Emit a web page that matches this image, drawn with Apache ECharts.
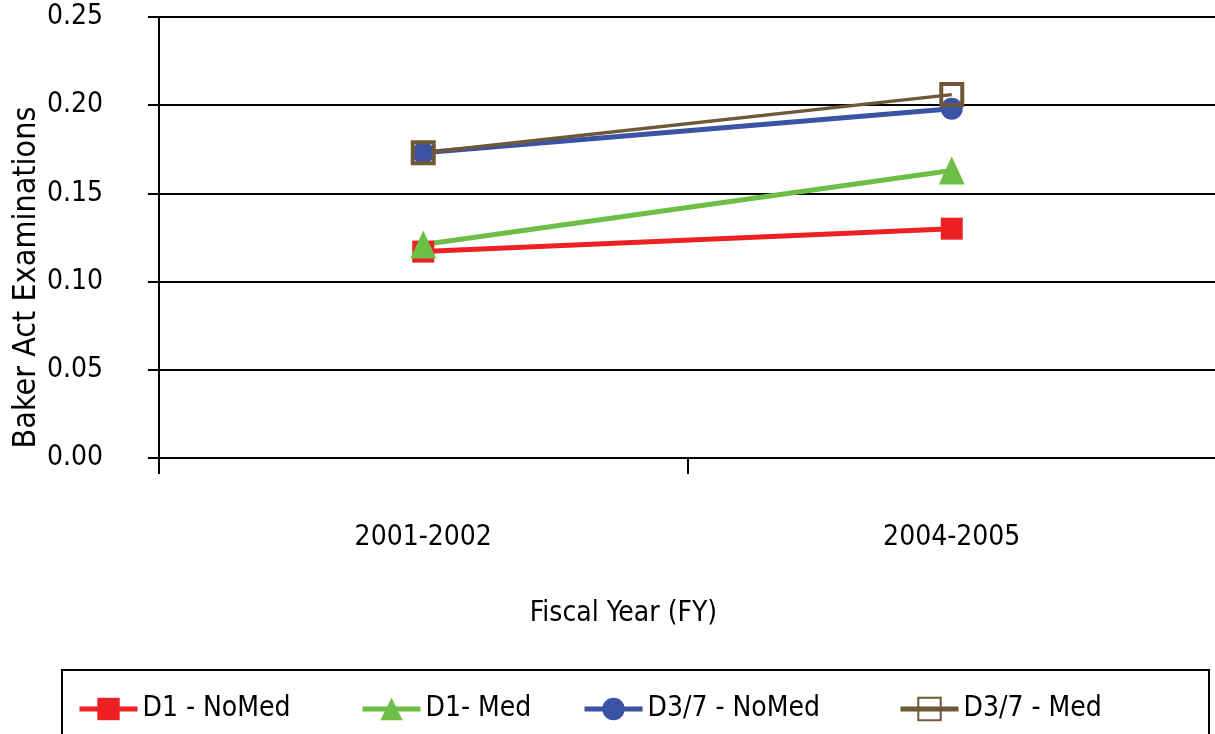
<!DOCTYPE html>
<html>
<head>
<meta charset="utf-8">
<script src="https://cdn.jsdelivr.net/npm/echarts@6/dist/echarts.min.js"></script>
<style>
  html, body { margin: 0; padding: 0; background: #fff; }
  #chart { width: 1215px; height: 734px; }
</style>
</head>
<body>
<div id="chart"></div>
<script>
// Data
const years = ["2001-2002", "2004-2005"];
const d1NoMed = [0.117, 0.130];
const d1Med = [0.121, 0.163];
const d37NoMed = [0.173, 0.198];
const d37Med = [0.173, 0.206];
const yTicks = [0, 0.05, 0.10, 0.15, 0.20, 0.25];

const FONT = '"Liberation Sans Narrow", "DejaVu Sans Condensed", sans-serif';

const chart = echarts.init(document.getElementById("chart"));

const legendAt = (name, left) => ({
    data: [name],
    left: left,
    top: 690,
    itemWidth: 58,
    itemHeight: 28,
    itemGap: 8,
    lineStyle: { width: 5 },
    textStyle: { fontFamily: FONT, fontSize: 28, color: "#000" },
    selectedMode: false,
});

chart.setOption({
    animation: false,
    grid: { left: 159, right: -1, top: 17, bottom: 276, outerBoundsMode: "none", containLabel: false },
    xAxis: {
        type: "category",
        data: years,
        boundaryGap: true,
        name: "Fiscal Year (FY)",
        nameLocation: "middle",
        nameGap: 142,
        nameMoveOverlap: false,
        nameTextStyle: { fontFamily: FONT, fontSize: 28, color: "#000", padding: [0, 128, 0, 0] },
        axisLine: { lineStyle: { color: "#000", width: 2 } },
        axisTick: { show: true, length: 16, lineStyle: { color: "#000", width: 2 } },
        axisLabel: { fontFamily: FONT, fontSize: 28, color: "#000", margin: 66 },
    },
    yAxis: {
        type: "value",
        min: yTicks[0],
        max: yTicks[yTicks.length - 1],
        interval: 0.05,
        name: "Baker Act Examinations",
        nameLocation: "middle",
        nameGap: 116,
        nameMoveOverlap: false,
        nameTextStyle: { fontFamily: FONT, fontSize: 32, color: "#000", padding: [0, 80, 0, 0] },
        axisLine: { show: true, lineStyle: { color: "#000", width: 2 } },
        axisTick: { show: true, length: 11, lineStyle: { color: "#000", width: 2 } },
        axisLabel: {
            fontFamily: FONT, fontSize: 28, color: "#000", margin: 56,
            formatter: (v) => v.toFixed(2),
        },
        splitLine: { show: true, lineStyle: { color: "#000", width: 2 } },
    },
    legend: [
        legendAt("D1 - NoMed", 72),
        legendAt("D1- Med", 355),
        legendAt("D3/7 - NoMed", 577),
        legendAt("D3/7 - Med", 893),
    ],
    graphic: [
        {
            type: "rect",
            shape: { x: 62, y: 670, width: 1147, height: 90 },
            style: { fill: "none", stroke: "#000", lineWidth: 2 },
            silent: true,
        },
    ],
    series: [
        {
            name: "D1 - NoMed",
            type: "line",
            data: d1NoMed,
            symbol: "rect",
            symbolSize: 22,
            lineStyle: { color: "#ed2024", width: 5 },
            itemStyle: { color: "#ed2024" },
        },
        {
            name: "D1- Med",
            type: "line",
            data: d1Med,
            symbol: "triangle",
            symbolSize: [26, 28],
            lineStyle: { color: "#6cbe45", width: 5 },
            itemStyle: { color: "#6cbe45" },
        },
        {
            name: "D3/7 - NoMed",
            type: "line",
            data: d37NoMed,
            symbol: "circle",
            symbolSize: 22,
            lineStyle: { color: "#3a53a4", width: 5 },
            itemStyle: { color: "#3a53a4" },
        },
        {
            name: "D3/7 - Med",
            type: "line",
            data: d37Med,
            symbol: "rect",
            symbolSize: 21,
            lineStyle: { color: "#6e5837", width: 3.5 },
            itemStyle: { color: "rgba(0,0,0,0)", borderColor: "#6e5837", borderWidth: 4 },
        },
    ],
});
</script>
</body>
</html>
